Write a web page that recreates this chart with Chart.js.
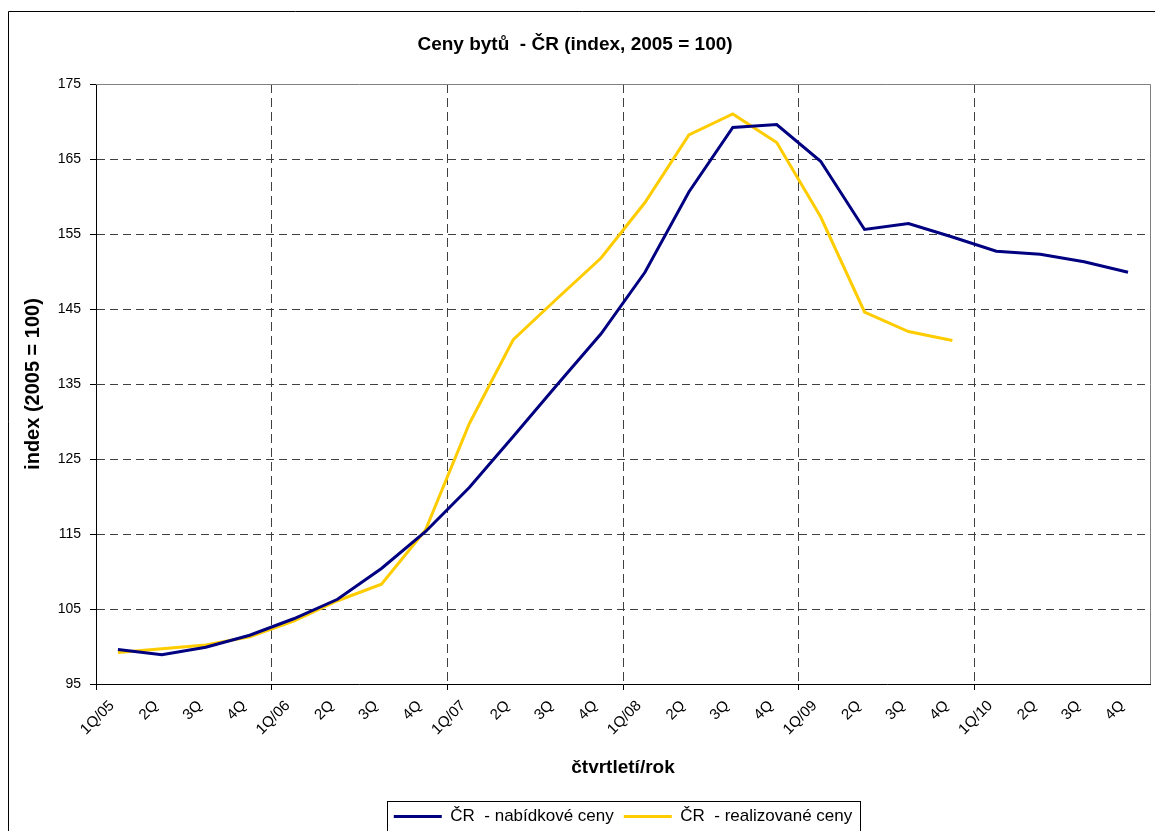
<!DOCTYPE html>
<html>
<head>
<meta charset="utf-8">
<script src="https://cdn.jsdelivr.net/npm/chart.js@4"></script>
<style>
  html, body { margin: 0; padding: 0; background: #fff; }
  #wrap { position: relative; width: 1155px; height: 831px; }
</style>
</head>
<body>
<div id="wrap"><canvas id="myChart" width="1155" height="831"></canvas></div>
<script>
// quarters on the x axis
const quarters = ['1Q/05', '2Q', '3Q', '4Q', '1Q/06', '2Q', '3Q', '4Q', '1Q/07', '2Q', '3Q', '4Q',
  '1Q/08', '2Q', '3Q', '4Q', '1Q/09', '2Q', '3Q', '4Q', '1Q/10', '2Q', '3Q', '4Q'];

// offer prices index (nabídkové ceny)
const offerPrices = [99.6, 98.9, 99.9, 101.5, 103.7, 106.3, 110.4, 115.3, 121.2, 128.0, 134.9, 141.7,
  149.9, 160.6, 169.2, 169.6, 164.7, 155.6, 156.4, 154.6, 152.7, 152.3, 151.3, 149.9];

// realized prices index (realizované ceny), ends at 4Q/09
const realPrices = [99.2, 99.7, 100.2, 101.3, 103.4, 106.1, 108.3, 115.5, 129.7, 140.9, 146.4, 151.8,
  159.2, 168.2, 171.0, 167.2, 157.3, 144.6, 142.0, 140.8];

const yTicks = [95, 105, 115, 125, 135, 145, 155, 165, 175];

const FONT = 'Arial, "Liberation Sans", sans-serif';

// white background, outer frame, plot border and legend box
const framePlugin = {
  id: 'framePlugin',
  beforeDraw(chart) {
    const c = chart.ctx;
    c.save();
    c.fillStyle = '#fff';
    c.fillRect(0, 0, chart.width, chart.height);
    c.strokeStyle = '#000';
    c.lineWidth = 1;
    c.beginPath();
    c.moveTo(8.5, chart.height + 2);
    c.lineTo(8.5, 11.5);
    c.lineTo(chart.width + 2, 11.5);
    c.stroke();
    c.restore();
  },
  beforeDatasetsDraw(chart) {
    const a = chart.chartArea;
    const c = chart.ctx;
    c.save();
    c.strokeStyle = '#808080';
    c.lineWidth = 1;
    c.beginPath();
    c.moveTo(a.left, Math.round(a.top) + 0.5);
    c.lineTo(Math.round(a.right) + 0.5, Math.round(a.top) + 0.5);
    c.lineTo(Math.round(a.right) + 0.5, a.bottom);
    c.stroke();
    c.restore();
  },
  afterDraw(chart) {
    const boxes = chart.legend.legendHitBoxes;
    if (!boxes || !boxes.length) return;
    let l = Infinity, r = -Infinity, t = Infinity;
    boxes.forEach(b => {
      l = Math.min(l, b.left);
      r = Math.max(r, b.left + b.width);
      t = Math.min(t, b.top);
    });
    const c = chart.ctx;
    c.save();
    c.strokeStyle = '#000';
    c.lineWidth = 1;
    c.strokeRect(Math.round(l - 7) + 0.5, Math.round(t - 7) + 0.5, Math.round(r - l + 15), 60);
    c.restore();
  }
};

const ctx = document.getElementById('myChart');

new Chart(ctx, {
  type: 'line',
  data: {
    labels: quarters,
    datasets: [
      {
        label: 'ČR  - nabídkové ceny',
        data: offerPrices,
        borderColor: '#000080',
        backgroundColor: '#000080',
        borderWidth: 3,
        pointRadius: 0,
        tension: 0,
        fill: false
      },
      {
        label: 'ČR  - realizované ceny',
        data: realPrices,
        borderColor: '#FFCC00',
        backgroundColor: '#FFCC00',
        borderWidth: 3,
        pointRadius: 0,
        tension: 0,
        fill: false
      }
    ]
  },
  options: {
    responsive: false,
    animation: false,
    devicePixelRatio: 1,
    layout: { padding: { left: 0, right: 5, top: 0, bottom: -4 } },
    plugins: {
      title: {
        display: true,
        text: 'Ceny bytů  - ČR (index, 2005 = 100)',
        color: '#000',
        font: { family: FONT, size: 19, weight: 'bold' },
        padding: { top: 33.6, bottom: 27.6 }
      },
      legend: {
        position: 'bottom',
        fullSize: false,
        labels: {
          color: '#000',
          font: { family: FONT, size: 17 },
          usePointStyle: true,
          pointStyle: 'line',
          pointStyleWidth: 48,
          padding: 10
        }
      },
      tooltip: { enabled: false }
    },
    scales: {
      x: {
        type: 'category',
        offset: true,
        grid: {
          offset: true,
          color: c => (c.index % 4 === 0 && c.index > 0) ? '#404040' : 'rgba(0,0,0,0)',
          tickColor: c => (c.index % 4 === 0) ? '#000' : 'rgba(0,0,0,0)',
          tickLength: 6,
          lineWidth: 1
        },
        border: { display: true, color: '#000', width: 1, dash: [9, 5] },
        ticks: {
          autoSkip: false,
          maxRotation: 45,
          minRotation: 45,
          color: '#000',
          font: { family: FONT, size: 15 },
          labelOffset: -6,
          padding: 7
        },
        title: {
          display: true,
          text: 'čtvrtletí/rok',
          color: '#000',
          font: { family: FONT, size: 19, weight: 'bold' },
          padding: { top: 0, bottom: 18.6 }
        },
        afterFit(scale) { scale.height = 114; }
      },
      y: {
        min: 95,
        max: 175,
        afterBuildTicks(scale) { scale.ticks = yTicks.map(v => ({ value: v })); },
        grid: {
          color: c => (c.tick && (c.tick.value === 95 || c.tick.value === 175)) ? 'rgba(0,0,0,0)' : '#404040',
          tickColor: '#000',
          tickLength: 6,
          lineWidth: 1
        },
        border: { display: true, color: '#000', width: 1, dash: [8, 5] },
        ticks: {
          color: '#000',
          font: { family: FONT, size: 14 },
          padding: 9
        },
        title: {
          display: true,
          text: 'index (2005 = 100)',
          color: '#000',
          font: { family: FONT, size: 20, weight: 'bold' },
          padding: { top: 21, bottom: 0 }
        },
        afterFit(scale) { scale.width = 96; }
      }
    }
  },
  plugins: [framePlugin]
});
</script>
</body>
</html>
